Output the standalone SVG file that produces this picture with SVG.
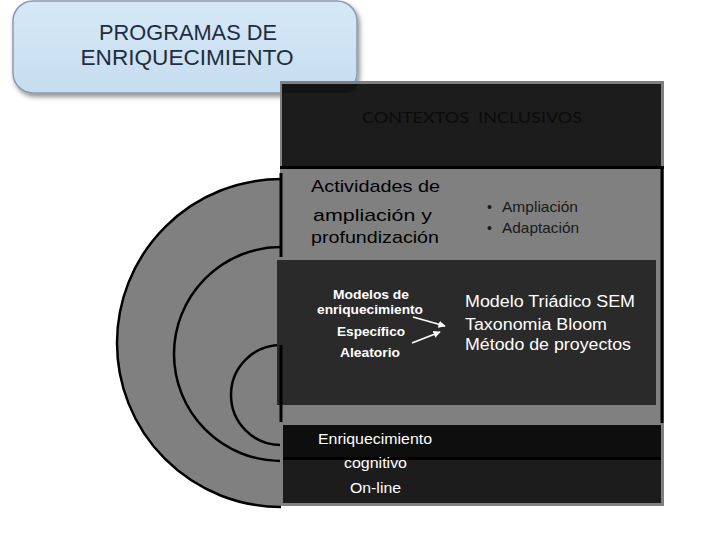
<svg xmlns="http://www.w3.org/2000/svg" width="720" height="540" viewBox="0 0 720 540">
<defs>
<linearGradient id="tg" x1="0" y1="0" x2="0" y2="1">
<stop offset="0" stop-color="#d6e8f6"/>
<stop offset="1" stop-color="#c6ddf0"/>
</linearGradient>
<filter id="sh" x="-10%" y="-20%" width="130%" height="150%">
<feDropShadow dx="2" dy="3" stdDeviation="2.5" flood-color="#000" flood-opacity="0.45"/>
</filter>
<marker id="ah" viewBox="0 0 10 10" refX="9" refY="5" markerWidth="4" markerHeight="4" orient="auto">
<path d="M0,0 L10,5 L0,10 z" fill="#ffffff"/>
</marker>
<style>
.arial{font-family:"Liberation Sans",Arial,sans-serif}
.blk{fill:#000}
.wht{fill:#fff}
.arc{fill:none;stroke:#000;stroke-width:2.5}
.conn{stroke:#fff;stroke-width:1.8;fill:none;marker-end:url(#ah)}
.ttl{font-family:"Liberation Sans",Arial,sans-serif;font-size:22px;fill:#1e2d3f}
</style>
</defs>
<rect width="720" height="540" fill="#fff"/>

<g id="title">
<rect x="13" y="1" width="344" height="92" rx="20" ry="20" fill="url(#tg)" stroke="#8a9bb0" stroke-width="1.5" filter="url(#sh)"/>
<text class="ttl" x="188" y="40" text-anchor="middle" textLength="178" lengthAdjust="spacingAndGlyphs">PROGRAMAS DE</text>
<text class="ttl" x="187" y="65" text-anchor="middle" textLength="213" lengthAdjust="spacingAndGlyphs">ENRIQUECIMIENTO</text>
</g>

<g id="semicircles">
<path d="M281,179 A164,164 0 0 0 281,507 Z" fill="#808080"/>
<path class="arc" d="M281,179 A164,164 0 0 0 281,507"/>
<path class="arc" d="M281,247 A107,107 0 0 0 281,461"/>
<path class="arc" d="M281,345 A50,50 0 0 0 281,445"/>
</g>

<g id="contextos">
<rect x="280" y="81" width="384" height="424" fill="#808080"/>
<rect x="282" y="84" width="379" height="82" fill="#1c1c1c"/>
<path d="M282,84 H357 V86 Q357,93 345,93 H282 Z" fill="#141414"/>
<rect x="280" y="166" width="384" height="3" fill="#000"/>
<text x="472" y="123" text-anchor="middle" xml:space="preserve" font-family="Lato,'Open Sans',sans-serif" font-size="16" fill="#0b0b0b" textLength="220" lengthAdjust="spacingAndGlyphs">CONTEXTOS  INCLUSIVOS</text>
</g>

<g id="actividades">
<line x1="281" y1="173" x2="281" y2="257" stroke="#000" stroke-width="3"/>
<line x1="662" y1="169" x2="662" y2="423" stroke="#000" stroke-width="3"/>
<text class="arial blk" x="311" y="192" font-size="17" textLength="129" lengthAdjust="spacingAndGlyphs">Actividades de</text>
<text class="arial blk" x="313" y="221" font-size="17" textLength="119" lengthAdjust="spacingAndGlyphs">ampliación y</text>
<text class="arial blk" x="311" y="243" font-size="17" textLength="128" lengthAdjust="spacingAndGlyphs">profundización</text>
<text class="arial" x="487" y="212" font-size="14" fill="#1a1a1a">•</text>
<text class="arial" x="502" y="212" font-size="14.5" fill="#1a1a1a" textLength="76" lengthAdjust="spacingAndGlyphs">Ampliación</text>
<text class="arial" x="487" y="233" font-size="14" fill="#1a1a1a">•</text>
<text class="arial" x="502" y="233" font-size="14.5" fill="#1a1a1a" textLength="77" lengthAdjust="spacingAndGlyphs">Adaptación</text>
</g>

<g id="modelos">
<rect x="277" y="260" width="379" height="145" fill="#2a2a2a"/>
<line x1="281" y1="345" x2="281" y2="422" stroke="#000" stroke-width="3"/>
<text class="arial wht" x="371" y="299" text-anchor="middle" font-size="12" font-weight="bold" textLength="76" lengthAdjust="spacingAndGlyphs">Modelos de</text>
<text class="arial wht" x="317" y="314" font-size="12" font-weight="bold" textLength="106" lengthAdjust="spacingAndGlyphs">enriquecimiento</text>
<text class="arial wht" x="337" y="336" font-size="12.5" font-weight="bold" textLength="68" lengthAdjust="spacingAndGlyphs">Específico</text>
<text class="arial wht" x="340" y="357" font-size="12.5" font-weight="bold" textLength="60" lengthAdjust="spacingAndGlyphs">Aleatorio</text>
<text class="arial wht" x="465" y="307" font-size="16" textLength="170" lengthAdjust="spacingAndGlyphs">Modelo Triádico SEM</text>
<text class="arial wht" x="465" y="330" font-size="16" textLength="142" lengthAdjust="spacingAndGlyphs">Taxonomia Bloom</text>
<text class="arial wht" x="465" y="350" font-size="16" textLength="166" lengthAdjust="spacingAndGlyphs">Método de proyectos</text>
</g>

<g id="connectors">
<line class="conn" x1="413" y1="317" x2="445" y2="326"/>
<line class="conn" x1="412" y1="343" x2="440" y2="332"/>
</g>

<g id="online">
<rect x="281" y="423" width="383" height="83" fill="#808080"/>
<rect x="283" y="425" width="378" height="33" fill="#0e0e0e"/>
<rect x="283" y="457" width="378" height="3" fill="#000"/>
<rect x="283" y="460" width="378" height="43" fill="#1c1c1c"/>
<text class="arial wht" x="318" y="444" font-size="15" textLength="114" lengthAdjust="spacingAndGlyphs">Enriquecimiento</text>
<text class="arial wht" x="344" y="468" font-size="15" textLength="63" lengthAdjust="spacingAndGlyphs">cognitivo</text>
<text class="arial wht" x="350" y="493" font-size="15" textLength="51" lengthAdjust="spacingAndGlyphs">On-line</text>
</g>
</svg>
